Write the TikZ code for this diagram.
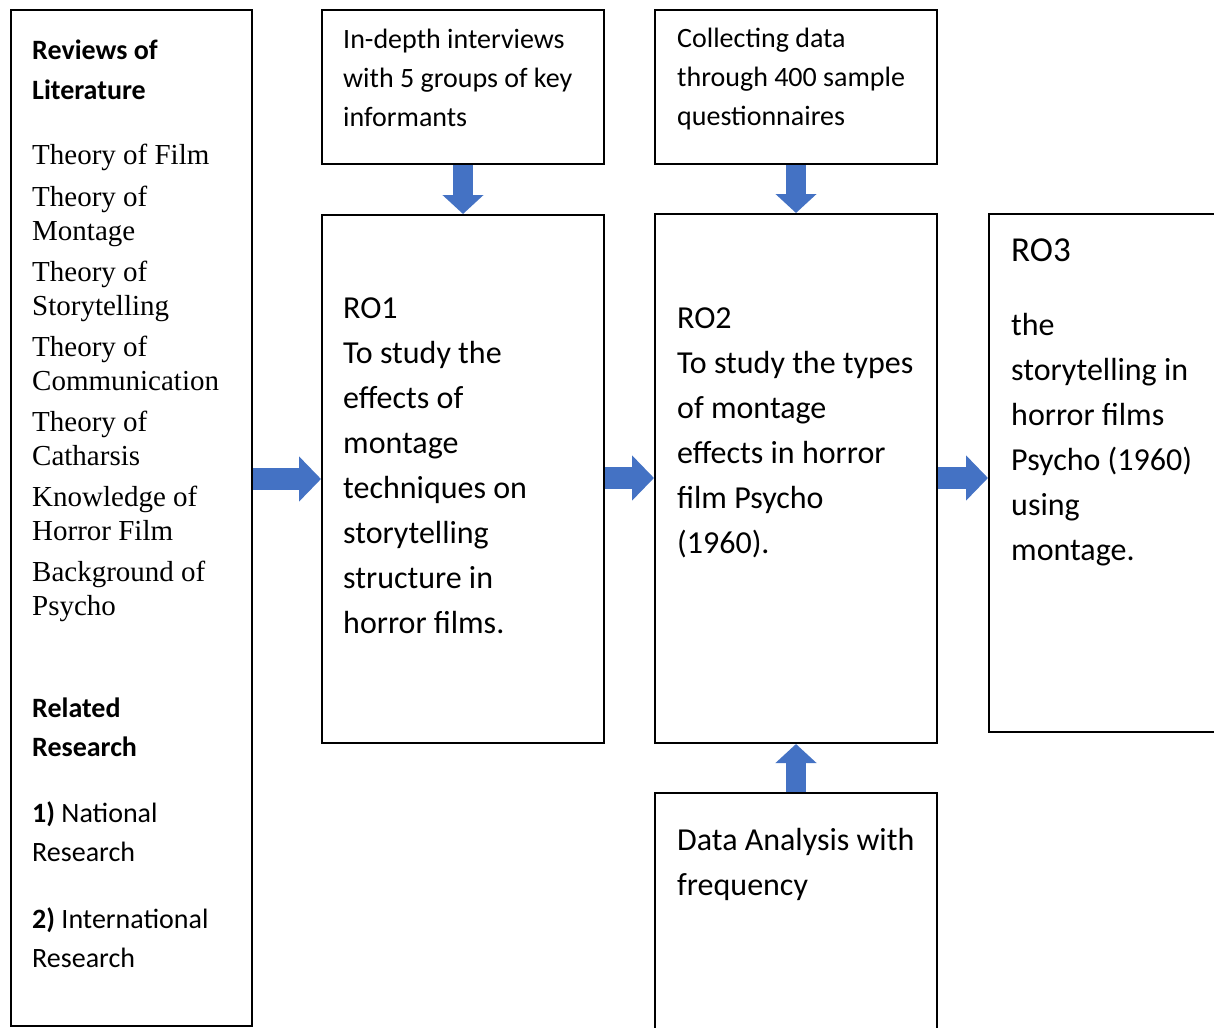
\documentclass[tikz,border=0pt]{standalone}
\usepackage{fontspec}
\setmainfont{Carlito}
\newfontfamily\serifA{Liberation Serif}
\usetikzlibrary{arrows.meta}
\definecolor{arrowblue}{HTML}{4472C4}
\begin{document}
\begin{tikzpicture}[x=1pt,y=-1pt,
  box/.style={draw=black, line width=2pt, inner sep=0pt, fill=none},
  txt/.style={anchor=base west, inner sep=0pt, align=left},
  small/.style={font=\fontsize{28}{39}\selectfont},
  big/.style={font=\fontsize{32}{45}\selectfont},
  serifList/.style={font=\serifA\fontsize{29}{34}\selectfont},
  harrow/.style={draw=arrowblue, line width=22pt, -{Triangle[length=22pt,width=44pt]}},
  varrow/.style={draw=arrowblue, line width=20pt, -{Triangle[length=19pt,width=40pt]}}
]
\useasboundingbox (0,0) rectangle (1214,1027);
\clip (0,0) rectangle (1214,1027);
\fill[white] (0,0) rectangle (1214,1027);

% boxes
\node[box, minimum width=241pt, minimum height=1016pt] (lit) at (131.5,518) {};
\node[box, minimum width=282pt, minimum height=154pt] (top1) at (463,87) {};
\node[box, minimum width=282pt, minimum height=154pt] (top2) at (796,87) {};
\node[box, minimum width=282pt, minimum height=528pt] (ro1) at (463,479) {};
\node[box, minimum width=282pt, minimum height=529pt] (ro2) at (796,478.5) {};
\node[box, minimum width=251pt, minimum height=518pt] (ro3) at (1114.5,473) {};
\node[box, minimum width=282pt, minimum height=267pt] (bot) at (796,926.5) {};

% left column text (anchored at the baseline of the last line)
\node[txt, font=\bfseries\fontsize{28}{40}\selectfont] (litA) at (32,100) {Reviews of\\Literature};
\node[txt, serifList] (litB) at (32,615) {Theory of Film\\[8pt]Theory of\\Montage\\[7pt]Theory of\\Storytelling\\[7pt]Theory of\\Communication\\[7pt]Theory of\\Catharsis\\[7pt]Knowledge of\\Horror Film\\[7pt]Background of\\Psycho};
\node[txt, font=\bfseries\fontsize{28}{39}\selectfont] (litC) at (32,756) {Related\\Research};
\node[txt, small] (litD) at (32,861) {\textbf{1)} National\\Research};
\node[txt, small] (litE) at (32,967) {\textbf{2)} International\\Research};

% top boxes text
\node[txt, small] (top1t) at (343,127) {In-depth interviews\\with 5 groups of key\\informants};
\node[txt, small] (top2t) at (677,126) {Collecting data\\through 400 sample\\questionnaires};

% RO texts
\node[txt, big] (ro1t) at (343,633) {RO1\\To study the\\effects of\\montage\\techniques on\\storytelling\\structure in\\horror films.};
\node[txt, big] (ro2t) at (677,553) {RO2\\To study the types\\of montage\\effects in horror\\film Psycho\\(1960).};
\node[txt, font=\fontsize{35}{45}\selectfont] (ro3h) at (1011,261) {RO3};
\node[txt, big] (ro3t) at (1011,560) {the\\storytelling in\\horror films\\Psycho (1960)\\using\\montage.};
\node[txt, big] (bott) at (677,895) {Data Analysis with\\frequency};

% arrows
\draw[harrow] (lit.east |- ro1.west) -- (ro1.west);
\draw[harrow] (ro1.east |- 0,478) -- (ro2.west |- 0,478);
\draw[harrow] (ro2.east |- 0,478) -- (ro3.west |- 0,478);
\draw[varrow] (top1.south) -- (ro1.north);
\draw[varrow] (top2.south) -- (ro2.north);
\draw[varrow] (bot.north) -- (ro2.south);
\end{tikzpicture}
\end{document}
